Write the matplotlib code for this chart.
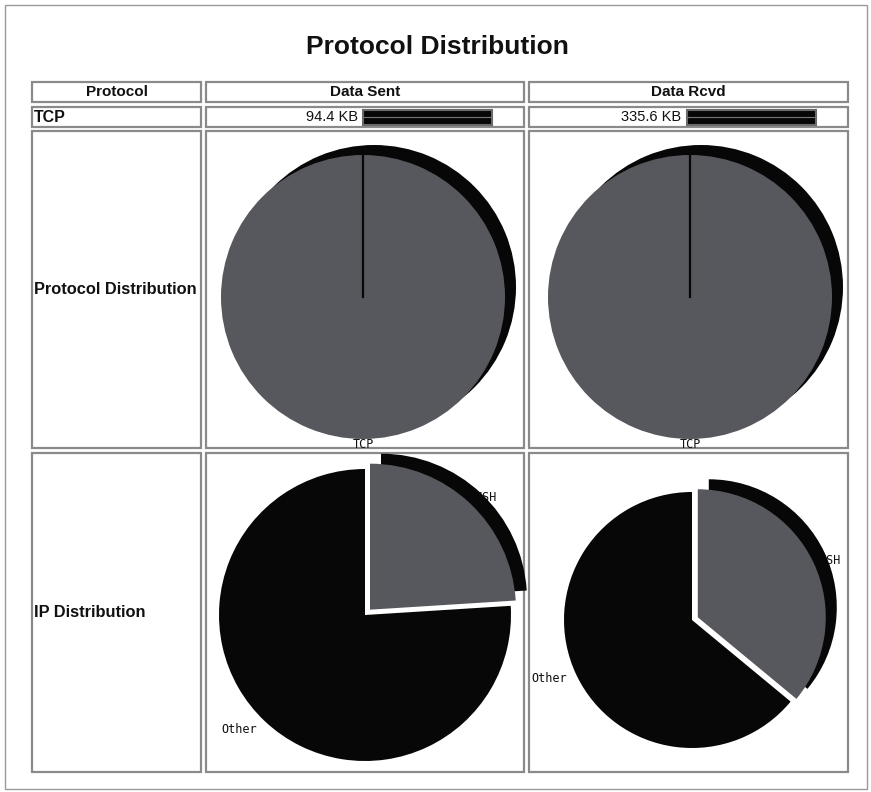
import numpy as np
import matplotlib.pyplot as plt
from matplotlib.patches import Rectangle

# data
protocols = ['TCP']
sent_kb = [94.4]
rcvd_kb = [335.6]
proto_pct = [100]

ip_labels = ['SSH', 'Other']
ip_sent_pct = [24, 76]
ip_rcvd_pct = [36, 64]
ip_explode = [0.05, 0]

col_titles = ['Protocol', 'Data Sent', 'Data Rcvd']
row_titles = ['Protocol Distribution', 'IP Distribution']

W, H = 871, 792
GRAY = '#57585e'
BLACK = '#070707'
LINE = '#8a8a8a'
SANS = 'Liberation Sans'
MONO = 'DejaVu Sans Mono'

fig = plt.figure(figsize=(W / 100, H / 100), dpi=100)
ax = fig.add_axes([0, 0, 1, 1])
ax.set_xlim(0, W)
ax.set_ylim(H, 0)
ax.axis('off')

# outer frame
ax.add_patch(Rectangle((5, 5), W - 9, H - 8, fill=False, ec='#999999', lw=1))

ax.text(W / 2 + 2, 47, 'Protocol Distribution', ha='center', va='center',
        fontsize=19, fontweight='bold', family=SANS, color='#111111')

# table grid
cols = [(32, 201), (206, 524), (529, 848)]
rows = [(82, 102), (107, 127), (131, 448), (453, 772)]
for x0, x1 in cols:
    for y0, y1 in rows:
        ax.add_patch(Rectangle((x0, y0), x1 - x0, y1 - y0, fill=False,
                               ec=LINE, lw=1.6))

for (x0, x1), t in zip(cols, col_titles):
    ax.text((x0 + x1) / 2, 92, t, ha='center', va='center', fontsize=11,
            fontweight='bold', family=SANS, color='#111111')

ax.text(34, 117, protocols[0], ha='left', va='center', fontsize=11.5,
        fontweight='bold', family=SANS, color='#111111')
for (y0, y1), t in zip(rows[2:], row_titles):
    ax.text(34, (y0 + y1) / 2, t, ha='left', va='center', fontsize=11.8,
            fontweight='bold', family=SANS, color='#111111')

# traffic bars in the TCP row
bar_px = 1.29  # pixels per percent
for (x0, x1), kb in zip(cols[1:], [sent_kb[0], rcvd_kb[0]]):
    mid = (x0 + x1) / 2
    ax.text(mid - 7, 117, f'{kb} KB', ha='right', va='center', fontsize=10.5,
            family=SANS, color='#111111')
    ax.barh([117], [proto_pct[0] * bar_px], left=mid - 2, height=15,
            color=BLACK, edgecolor='#6a6a6a', lw=1.5)
    ax.plot([mid - 1, mid - 2 + proto_pct[0] * bar_px - 1], [117, 117],
            color='#777777', lw=0.8)


def pie_axes(cx, cy, r, span=1.4):
    half = r * span
    a = fig.add_axes([(cx - half) / W, 1 - (cy + half) / H,
                      2 * half / W, 2 * half / H])
    return a


def draw_pie(cx, cy, r, values, labels, colors, explode, full=False):
    a = pie_axes(cx, cy, r)
    sx, sy = 11 / r, 10 / r
    shadow_cols = [BLACK if c == GRAY else 'none' for c in colors]
    a.pie(values, explode=explode, colors=shadow_cols, startangle=90,
          counterclock=False, center=(sx, sy),
          wedgeprops=dict(linewidth=0, zorder=1))
    wedges, texts = a.pie(values, explode=explode, labels=labels,
                          colors=colors, startangle=90, counterclock=False,
                          labeldistance=1.08,
                          wedgeprops=dict(linewidth=0, zorder=2),
                          textprops=dict(family=MONO, fontsize=8.5,
                                         color='#111111', zorder=0.5))
    if full:
        for t in texts:
            t.set_ha('center')
            t.set_position((0, -1.04))
        a.plot([0, 0], [0, 1], color=BLACK, lw=1.6, zorder=3)
    elif explode is not None:
        # exploded slice labels sit just past the arc, partly under the shadow
        for w, t, e in zip(wedges, texts, explode):
            if e > 0:
                ang = np.deg2rad((w.theta1 + w.theta2) / 2)
                t.set_position((w.center[0] + 1.05 * np.cos(ang),
                                w.center[1] + 1.05 * np.sin(ang)))
    a.set_xlim(-1.4, 1.4)
    a.set_ylim(-1.4, 1.4)
    a.axis('off')
    return a


draw_pie(363, 297, 142, sent_kb, protocols, [GRAY], None, full=True)
draw_pie(690, 297, 142, rcvd_kb, protocols, [GRAY], None, full=True)
draw_pie(365, 615, 146, ip_sent_pct, ip_labels, [GRAY, BLACK], ip_explode)
draw_pie(692, 620, 128, ip_rcvd_pct, ip_labels, [GRAY, BLACK], ip_explode)

fig.savefig('out.png', dpi=100)
